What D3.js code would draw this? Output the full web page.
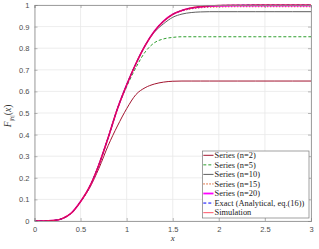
<!DOCTYPE html>
<html>
<head>
<meta charset="utf-8">
<script src="https://cdn.jsdelivr.net/npm/d3@7"></script>
<style>
  body { margin: 0; background: #fff; }
  svg { display: block; }
</style>
</head>
<body>
<div id="chart"></div>
<script>
// sample points along x
var xs = [0, 0.1, 0.2, 0.3, 0.4, 0.5, 0.6, 0.7, 0.8, 0.9, 1.0, 1.1, 1.2, 1.3, 1.4, 1.5,
          1.6, 1.7, 1.8, 1.9, 2.0, 2.2, 2.4, 2.6, 2.8, 3.0];

var exact = [0, 0, 0.002, 0.011, 0.037, 0.09, 0.16, 0.262, 0.387, 0.52, 0.63, 0.728, 0.812,
             0.878, 0.925, 0.957, 0.975, 0.986, 0.992, 0.996, 0.998, 0.999, 1, 1, 1, 1];
var n2 = [0, 0, 0.002, 0.011, 0.037, 0.09, 0.155, 0.245, 0.35, 0.44, 0.52, 0.585, 0.617,
          0.634, 0.643, 0.647, 0.648, 0.648, 0.648, 0.648, 0.648, 0.648, 0.648, 0.648, 0.648, 0.648];
var n5 = [0, 0, 0.002, 0.011, 0.037, 0.09, 0.16, 0.262, 0.387, 0.52, 0.622, 0.71, 0.782,
          0.825, 0.843, 0.85, 0.853, 0.853, 0.853, 0.853, 0.853, 0.853, 0.853, 0.853, 0.853, 0.853];
var n10 = [0, 0, 0.002, 0.011, 0.037, 0.09, 0.16, 0.262, 0.387, 0.52, 0.63, 0.728, 0.812,
           0.874, 0.913, 0.943, 0.958, 0.965, 0.968, 0.969, 0.969, 0.969, 0.969, 0.969, 0.969, 0.969];
var n15 = [0, 0, 0.002, 0.011, 0.037, 0.09, 0.16, 0.262, 0.387, 0.52, 0.63, 0.728, 0.812,
           0.878, 0.925, 0.957, 0.972, 0.982, 0.987, 0.99, 0.991, 0.992, 0.992, 0.992, 0.992, 0.992];
var n20 = [0, 0, 0.002, 0.011, 0.037, 0.09, 0.16, 0.262, 0.387, 0.52, 0.63, 0.728, 0.812,
           0.878, 0.925, 0.957, 0.975, 0.986, 0.991, 0.995, 0.996, 0.997, 0.997, 0.997, 0.997, 0.997];
var sim = [0, 0, 0.002, 0.011, 0.037, 0.09, 0.16, 0.262, 0.387, 0.52, 0.63, 0.728, 0.812,
           0.878, 0.925, 0.957, 0.975, 0.986, 0.992, 0.996, 0.998, 0.999, 1, 1, 1, 1];

var legendLabels = ["Series (n=2)", "Series (n=5)", "Series (n=10)", "Series (n=15)",
                    "Series (n=20)", "Exact (Analytical, eq.(16))", "Simulation"];
var xTicks = [0, 0.5, 1, 1.5, 2, 2.5, 3];
var yTicks = [0, 0.1, 0.2, 0.3, 0.4, 0.5, 0.6, 0.7, 0.8, 0.9, 1];

var Chart = (function() {

    var width = 319,
        height = 249,
        left = 34.5,
        right = 311,
        top = 5,
        bottom = 221;

    var styles = [
        { color: "#a2142f", w: 1, dash: null, op: 1 },
        { color: "#2e9e2e", w: 1, dash: "3,2", op: 1 },
        { color: "#5e5e5e", w: 1, dash: null, op: 1 },
        { color: "#d95319", w: 1, dash: "1.5,1.5", op: 1 },
        { color: "#ff00ff", w: 1.6, dash: null, op: 1 },
        { color: "#0000ff", w: 1, dash: "3,2", op: 1 },
        { color: "#e8103c", w: 1.5, dash: null, op: 0.85 }
    ];

    var x = d3.scaleLinear().domain([0, 3]).range([left, right]);
    var y = d3.scaleLinear().domain([0, 1]).range([bottom, top]);

    var svg = d3.select("#chart").append("svg")
        .attr("width", width)
        .attr("height", height);

    var init = function() {
        drawGrid();
        drawLines();
        drawAxes();
        drawLegend();
    }

    var drawGrid = function() {
        svg.append("g").selectAll("line.gx")
            .data(xTicks)
            .enter().append("line")
            .attr("x1", function(d) { return x(d); })
            .attr("x2", function(d) { return x(d); })
            .attr("y1", top).attr("y2", bottom)
            .attr("stroke", "#e8e8e8").attr("stroke-width", 0.8);

        svg.append("g").selectAll("line.gy")
            .data(yTicks)
            .enter().append("line")
            .attr("y1", function(d) { return y(d); })
            .attr("y2", function(d) { return y(d); })
            .attr("x1", left).attr("x2", right)
            .attr("stroke", "#e8e8e8").attr("stroke-width", 0.8);
    }

    var drawLines = function() {
        svg.append("clipPath").attr("id", "clip")
            .append("rect")
            .attr("x", left).attr("y", top - 1)
            .attr("width", right - left).attr("height", bottom - top + 1);

        var series = [n2, n5, n10, n15, n20, exact, sim];
        var line = d3.line()
            .x(function(d, i) { return x(xs[i]); })
            .y(function(d) { return y(d); })
            .curve(d3.curveMonotoneX);

        svg.append("g").attr("clip-path", "url(#clip)")
            .selectAll("path")
            .data(series)
            .enter().append("path")
            .attr("d", line)
            .attr("fill", "none")
            .attr("stroke", function(d, i) { return styles[i].color; })
            .attr("stroke-width", function(d, i) { return styles[i].w; })
            .attr("stroke-opacity", function(d, i) { return styles[i].op; })
            .attr("stroke-dasharray", function(d, i) { return styles[i].dash; });
    }

    var drawAxes = function() {
        var axisColor = "#8c8c8c";
        var tickFont = "Liberation Sans, Arial, sans-serif";

        var xAxis = svg.append("g")
            .attr("transform", "translate(0," + bottom + ")")
            .call(d3.axisBottom(x).tickValues(xTicks).tickSize(-3).tickPadding(6)
                .tickFormat(d3.format("")));
        var yAxis = svg.append("g")
            .attr("transform", "translate(" + left + ",0)")
            .call(d3.axisLeft(y).tickValues(yTicks).tickSize(-3).tickPadding(5)
                .tickFormat(d3.format("")));
        var xTop = svg.append("g")
            .attr("transform", "translate(0," + top + ")")
            .call(d3.axisTop(x).tickValues(xTicks).tickSize(-3).tickFormat(""));
        var yRight = svg.append("g")
            .attr("transform", "translate(" + right + ",0)")
            .call(d3.axisRight(y).tickValues(yTicks).tickSize(-3).tickFormat(""));

        [xAxis, yAxis, xTop, yRight].forEach(function(g) {
            g.select(".domain").attr("stroke", axisColor).attr("stroke-width", 0.8);
            g.selectAll(".tick line").attr("stroke", axisColor).attr("stroke-width", 0.6);
            g.selectAll("text")
                .attr("fill", "#4d4d4d")
                .style("font-family", tickFont)
                .style("font-size", "7.5px");
        });

        svg.append("text")
            .attr("x", (left + right) / 2)
            .attr("y", 241)
            .attr("text-anchor", "middle")
            .style("font-family", "Liberation Serif, serif")
            .style("font-style", "italic")
            .style("font-size", "9px")
            .attr("fill", "#333")
            .text("x");

        var yl = svg.append("text")
            .attr("transform", "translate(11," + ((top + bottom) / 2 + 3) + ") rotate(-90)")
            .attr("text-anchor", "middle")
            .style("font-family", "Liberation Serif, serif")
            .style("font-size", "9.5px")
            .attr("fill", "#333");
        yl.append("tspan").style("font-style", "italic").text("F");
        yl.append("tspan").attr("dy", 2.5).style("font-size", "7px").text("|");
        yl.append("tspan").style("font-size", "7px").style("font-style", "italic").text("h");
        yl.append("tspan").style("font-size", "7px").text("|");
        yl.append("tspan").attr("dy", -2.5).text("(");
        yl.append("tspan").style("font-style", "italic").text("x");
        yl.append("tspan").text(")");
    }

    var drawLegend = function() {
        var lx = 202.5, ly = 151, lw = 106.5, lh = 67, step = 9.55;

        svg.append("rect")
            .attr("x", lx).attr("y", ly)
            .attr("width", lw).attr("height", lh)
            .attr("fill", "#fff")
            .attr("stroke", "#7a7a7a").attr("stroke-width", 0.7);

        var items = svg.append("g").selectAll("g")
            .data(legendLabels)
            .enter().append("g")
            .attr("transform", function(d, i) {
                return "translate(" + lx + "," + (ly + 4.3 + i * step) + ")";
            });

        items.append("line")
            .attr("x1", 0.8).attr("x2", 11)
            .attr("y1", 0).attr("y2", 0)
            .attr("stroke", function(d, i) { return i === 6 ? "#ff6f7f" : styles[i].color; })
            .attr("stroke-width", function(d, i) { return i === 4 ? 1.8 : Math.min(styles[i].w, 1.2); })
            .attr("stroke-dasharray", function(d, i) { return styles[i].dash; });

        items.append("text")
            .attr("x", 12)
            .attr("y", 2.7)
            .style("font-family", "Liberation Serif, serif")
            .style("font-size", "8.4px")
            .attr("fill", "#222")
            .text(function(d) { return d; });
    }

    return {
        init: init
    }

})();

Chart.init();
</script>
</body>
</html>
